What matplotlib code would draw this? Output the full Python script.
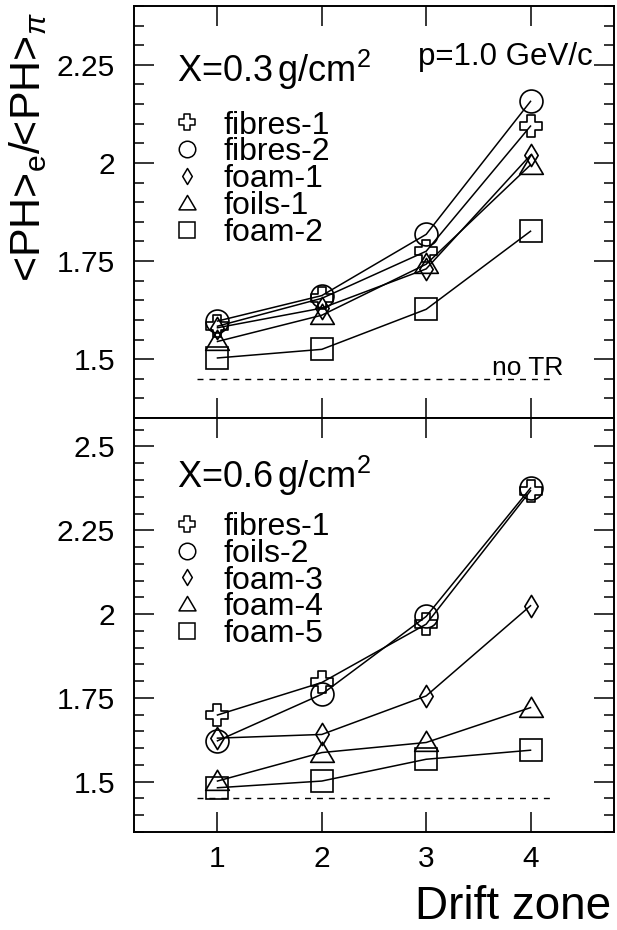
import numpy as np
import matplotlib
matplotlib.use("Agg")
from matplotlib import pyplot as plt
from matplotlib.path import Path
from matplotlib.lines import Line2D
from matplotlib.ticker import MultipleLocator, FuncFormatter

plt.rcParams['font.family'] = ['Liberation Sans', 'DejaVu Sans']
plt.rcParams['mathtext.fontset'] = 'custom'
plt.rcParams['mathtext.rm'] = 'Liberation Sans'
plt.rcParams['mathtext.it'] = 'Liberation Sans:italic'

# data
zones = [1, 2, 3, 4]

top_labels = ["fibres-1", "fibres-2", "foam-1", "foils-1", "foam-2"]
top_fibres1 = [1.584, 1.655, 1.775, 2.094]
top_fibres2 = [1.597, 1.662, 1.818, 2.157]
top_foam1 = [1.580, 1.630, 1.730, 2.020]
top_foils1 = [1.545, 1.612, 1.742, 1.995]
top_foam2 = [1.503, 1.525, 1.627, 1.826]

bot_labels = ["fibres-1", "foils-2", "foam-3", "foam-4", "foam-5"]
bot_fibres1 = [1.699, 1.796, 1.970, 2.368]
bot_foils2 = [1.622, 1.761, 1.993, 2.376]
bot_foam3 = [1.630, 1.641, 1.756, 2.025]
bot_foam4 = [1.502, 1.587, 1.617, 1.721]
bot_foam5 = [1.482, 1.502, 1.567, 1.594]

notr_x = [0.8, 4.2]
notr_y = 1.45

# ROOT-like open markers
w = 0.35
cross = Path([(-w, 1), (w, 1), (w, w), (1, w), (1, -w), (w, -w), (w, -1),
              (-w, -1), (-w, -w), (-1, -w), (-1, w), (-w, w), (-w, 1)],
             closed=True)
diamond = Path([(0, 1), (0.6, 0), (0, -1), (-0.6, 0), (0, 1)], closed=True)
triangle = Path([(0, 0.95), (1, -0.75), (-1, -0.75), (0, 0.95)], closed=True)
markers = [cross, 'o', diamond, triangle, 's']
msizes = [16, 16.5, 16, 17, 16]

fig = plt.figure(figsize=(6.17, 9.30), dpi=100)
ax1 = fig.add_axes([134/617, 1-418/930, 480/617, 412/930])
ax2 = fig.add_axes([134/617, 1-832/930, 480/617, 414/930])


def style(ax, ylim, yticks):
    ax.set_xlim(0.2, 4.8)
    ax.set_ylim(*ylim)
    ax.set_xticks(zones)
    ax.set_yticks(yticks)
    ax.yaxis.set_minor_locator(MultipleLocator(0.05))
    ax.yaxis.set_major_formatter(FuncFormatter(lambda v, p: "%g" % v))
    ax.tick_params(which='both', direction='in', top=True, right=True,
                   width=1.1, labelsize=21.5)
    ax.tick_params(which='major', length=14.5)
    ax.tick_params(which='minor', length=7)
    ax.tick_params(axis='y', pad=13.5)
    ax.tick_params(axis='x', pad=9.5)
    for s in ax.spines.values():
        s.set_linewidth(1.4)


def draw(ax, series, labels):
    handles = []
    for ys, m, ms, lab in zip(series, markers, msizes, labels):
        ax.plot(zones, ys, color='black', lw=1.1, marker=m, ms=ms,
                mfc='none', mec='black', mew=1.2)
        handles.append(Line2D([], [], ls='none', marker=m, ms=ms*0.72,
                              mfc='none', mec='black', mew=1.1, label=lab))
    ax.plot(notr_x, [notr_y, notr_y], color='black', lw=1.0,
            dashes=(4.3, 4.3))
    return handles


h1 = draw(ax1, [top_fibres1, top_fibres2, top_foam1, top_foils1, top_foam2],
          top_labels)
h2 = draw(ax2, [bot_fibres1, bot_foils2, bot_foam3, bot_foam4, bot_foam5],
          bot_labels)

style(ax1, (1.35, 2.40), [1.5, 1.75, 2.0, 2.25])
style(ax2, (1.35, 2.585), [1.5, 1.75, 2.0, 2.25, 2.5])
ax1.tick_params(axis='x', labelbottom=False)

leg_kw = dict(loc='upper left', frameon=False, fontsize=23,
              handlelength=1.0, handletextpad=0.63, labelspacing=-0.1,
              borderpad=0, borderaxespad=0)
ax1.legend(handles=h1, bbox_to_anchor=(0.077, 0.746), **leg_kw)
ax2.legend(handles=h2, bbox_to_anchor=(0.077, 0.773), **leg_kw)

ax1.text(0.0896, 0.816, r"X=0.3$\,$g/cm$^{2}$", transform=ax1.transAxes,
         fontsize=26, va='baseline', ha='left')
ax2.text(0.0896, 0.830, r"X=0.6$\,$g/cm$^{2}$", transform=ax2.transAxes,
         fontsize=26, va='baseline', ha='left')
ax1.text(0.956, 0.857, "p=1.0 GeV/c", transform=ax1.transAxes,
         fontsize=22.5, va='baseline', ha='right')
ax1.text(0.894, 0.104, "no TR", transform=ax1.transAxes,
         fontsize=19, va='baseline', ha='right')

fig.text(28/617, 1-12/930, r"<PH>$_{\mathrm{e}}$/<PH>$_{\pi}$", rotation=90,
         fontsize=31, ha='center', va='top')
fig.text(611/617, 1-919/930, "Drift zone", fontsize=33, ha='right',
         va='baseline')

fig.savefig("out.png", dpi=100)
